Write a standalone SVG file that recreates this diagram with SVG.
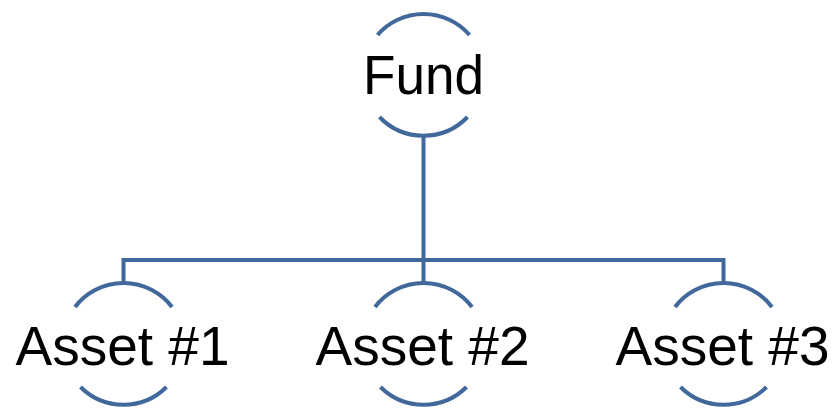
<svg xmlns="http://www.w3.org/2000/svg" width="834" height="410" viewBox="0 0 834 410">
<defs>
<style>
.arc{fill:none;stroke:#41689b;stroke-width:4}
.conn{fill:none;stroke:#41689b;stroke-width:4}
.lbl{font-family:"Liberation Sans",Arial,sans-serif;font-size:56px;fill:#000;text-anchor:middle}
</style>
</defs>
<rect width="834" height="410" fill="#fff"/>
<g id="connectors">
<path class="conn" d="M423.5 136 V260 M123.5 283 V260 H723.5 V283 M423.5 260 V283"/>
</g>
<g id="fund" transform="translate(423.5 75)">
<path class="arc" d="M-46 -40 A61 61 0 0 1 46 -40 M-44 42 A61 61 0 0 0 44 42"/>
<text class="lbl" x="0" y="19" textLength="121" lengthAdjust="spacingAndGlyphs">Fund</text>
</g>
<g id="asset1" transform="translate(123.5 344)">
<path class="arc" d="M-48.5 -37 A61 61 0 0 1 48.5 -37 M-43 43 A61 61 0 0 0 43 43"/>
<text class="lbl" x="-1" y="21" textLength="214" lengthAdjust="spacingAndGlyphs">Asset #1</text>
</g>
<g id="asset2" transform="translate(423.5 344)">
<path class="arc" d="M-48.5 -37 A61 61 0 0 1 48.5 -37 M-43 43 A61 61 0 0 0 43 43"/>
<text class="lbl" x="-1" y="21" textLength="214" lengthAdjust="spacingAndGlyphs">Asset #2</text>
</g>
<g id="asset3" transform="translate(723.5 344)">
<path class="arc" d="M-48.5 -37 A61 61 0 0 1 48.5 -37 M-43 43 A61 61 0 0 0 43 43"/>
<text class="lbl" x="-1" y="21" textLength="214" lengthAdjust="spacingAndGlyphs">Asset #3</text>
</g>
</svg>
